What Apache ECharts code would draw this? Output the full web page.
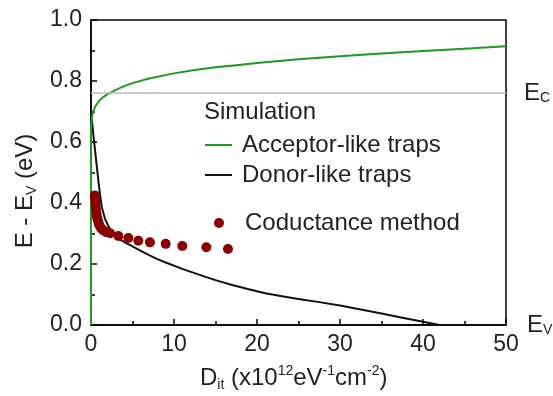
<!DOCTYPE html>
<html><head><meta charset="utf-8">
<script src="https://cdn.jsdelivr.net/npm/echarts@6/dist/echarts.min.js"></script>
<style>html,body{margin:0;padding:0;background:#fff}#c{width:553px;height:396px}</style>
</head><body><div id="c"></div>
<script>
// Data
var acceptorLike = [[0,0],[0,0.64],[0.1,0.68],[0.3,0.703],[0.6,0.72],[1,0.735],[1.5,0.748],[2,0.757],[3,0.771],[4,0.783],[5,0.793],[7,0.808],[10,0.825],[12.5,0.836],[15,0.845],[17.5,0.852],[20,0.859],[25,0.871],[30,0.881],[35,0.89],[40,0.898],[45,0.906],[50,0.914]];
var donorLike = [[0,0.70],[0.3,0.62],[0.6,0.545],[0.9,0.47],[1.1,0.425],[1.3,0.387],[1.7,0.347],[2.3,0.313],[3,0.292],[3.5,0.281],[4,0.272],[5,0.258],[6,0.243],[7,0.229],[8,0.216],[9,0.205],[11,0.184],[13,0.165],[15,0.147],[17,0.131],[19,0.117],[21,0.104],[23,0.094],[25,0.085],[27.5,0.075],[30,0.064],[32.5,0.051],[35,0.038],[37.5,0.024],[40,0.011],[42,0]];
var conductance = [[0.45,0.425],[0.5,0.41],[0.55,0.395],[0.6,0.38],[0.65,0.367],[0.72,0.355],[0.8,0.345],[0.9,0.336],[1.0,0.327],[1.2,0.318],[1.45,0.311],[1.8,0.305],[2.3,0.301],[3.3,0.292],[4.5,0.285],[5.7,0.276],[7.1,0.271],[9.0,0.266],[11.0,0.259],[13.9,0.255],[16.5,0.249]];
var ecLevel = 0.76;
var xTicks = [0,10,20,30,40,50];
var yTicks = [0,0.2,0.4,0.6,0.8,1.0];

var chart = echarts.init(document.getElementById('c'));
var sub = {a:{fontSize:24,color:'#222',fontFamily:'Liberation Sans'},b:{fontSize:14,color:'#222',fontFamily:'Liberation Sans',verticalAlign:'bottom',padding:[10,0,0,0]}};
chart.setOption({
  animation:false,
  grid:{left:91,right:47,top:20,bottom:71,show:true,borderColor:'#000',borderWidth:1.5,backgroundColor:'transparent'},
  xAxis:{type:'value',min:xTicks[0],max:xTicks[xTicks.length-1],interval:10,
    axisLine:{lineStyle:{color:'#000',width:1.5}},
    axisTick:{inside:true,length:6,lineStyle:{color:'#000',width:1.5}},
    minorTick:{show:true,splitNumber:2,length:4,lineStyle:{color:'#000',width:1.5}},
    splitLine:{show:false},
    axisLabel:{fontSize:23,color:'#222',fontFamily:'Liberation Sans',margin:8}},
  yAxis:{type:'value',min:yTicks[0],max:yTicks[yTicks.length-1],interval:0.2,
    axisLine:{show:true,lineStyle:{color:'#000',width:1.5}},
    axisTick:{show:true,inside:true,length:6,lineStyle:{color:'#000',width:1.5}},
    minorTick:{show:true,splitNumber:2,length:4,lineStyle:{color:'#000',width:1.5}},
    splitLine:{show:false},
    axisLabel:{fontSize:23,color:'#222',fontFamily:'Liberation Sans',margin:9,formatter:function(v){return v.toFixed(1);}}},
  legend:[
    {orient:'vertical',left:200,top:128,itemWidth:27,itemHeight:2,itemGap:6,icon:'rect',
     data:['Acceptor-like traps','Donor-like traps'],
     textStyle:{fontSize:24,color:'#222',fontFamily:'Liberation Sans',lineHeight:24,padding:[0,0,0,5]}},
    {orient:'vertical',left:209,top:206,itemWidth:10,itemHeight:10,icon:'circle',
     data:['Coductance method'],
     textStyle:{fontSize:24,color:'#222',fontFamily:'Liberation Sans',lineHeight:24,padding:[0,0,0,16]}}
  ],
  series:[
    {name:'Acceptor-like traps',type:'line',data:acceptorLike,showSymbol:false,symbol:'none',smooth:false,
     lineStyle:{color:'#1f9a1f',width:2,join:'round'},itemStyle:{color:'#1f9a1f'},z:3,
     markLine:{silent:true,symbol:'none',
       data:[
        {yAxis:ecLevel,lineStyle:{color:'#bbbbbb',width:1.5,type:'solid'},
         label:{show:true,position:'end',distance:18,formatter:'{a|E}{b|C}',rich:sub}},
        {yAxis:0,lineStyle:{color:'rgba(0,0,0,0)',width:0},
         label:{show:true,position:'end',distance:21,formatter:'{a|E}{b|V}',rich:sub}}
       ]}},
    {name:'Donor-like traps',type:'line',data:donorLike,showSymbol:false,symbol:'none',smooth:false,
     lineStyle:{color:'#111',width:2,join:'round'},itemStyle:{color:'#111'},z:2},
    {name:'Coductance method',type:'scatter',data:conductance,symbolSize:10,
     itemStyle:{color:'#8b0000',opacity:1},z:4}
  ],
  graphic:[
    {type:'text',left:204,top:100,style:{text:'Simulation',fontSize:24,fill:'#222',fontFamily:'Liberation Sans'}},
    {type:'text',x:200,y:364,style:{
      text:'{a|D}{s|it}{a| (x10}{p|12}{a|eV}{p|-1}{a|cm}{p|-2}{a|)}',
      rich:{a:{fontSize:24,fill:'#222',fontFamily:'Liberation Sans',lineHeight:28},
            s:{fontSize:14,fill:'#222',fontFamily:'Liberation Sans',lineHeight:28,verticalAlign:'bottom',padding:[12,0,0,0]},
            p:{fontSize:14,fill:'#222',fontFamily:'Liberation Sans',lineHeight:28,verticalAlign:'top',padding:[0,0,12,0]}}}},
    {type:'text',x:25,y:191,rotation:Math.PI/2,style:{
      text:'{a|E - E}{s|V}{a| (eV)}',align:'center',verticalAlign:'middle',
      rich:{a:{fontSize:24,fill:'#222',fontFamily:'Liberation Sans',lineHeight:28},
            s:{fontSize:14,fill:'#222',fontFamily:'Liberation Sans',lineHeight:28,verticalAlign:'bottom',padding:[12,0,0,0]}}}}
  ]
});
</script></body></html>
